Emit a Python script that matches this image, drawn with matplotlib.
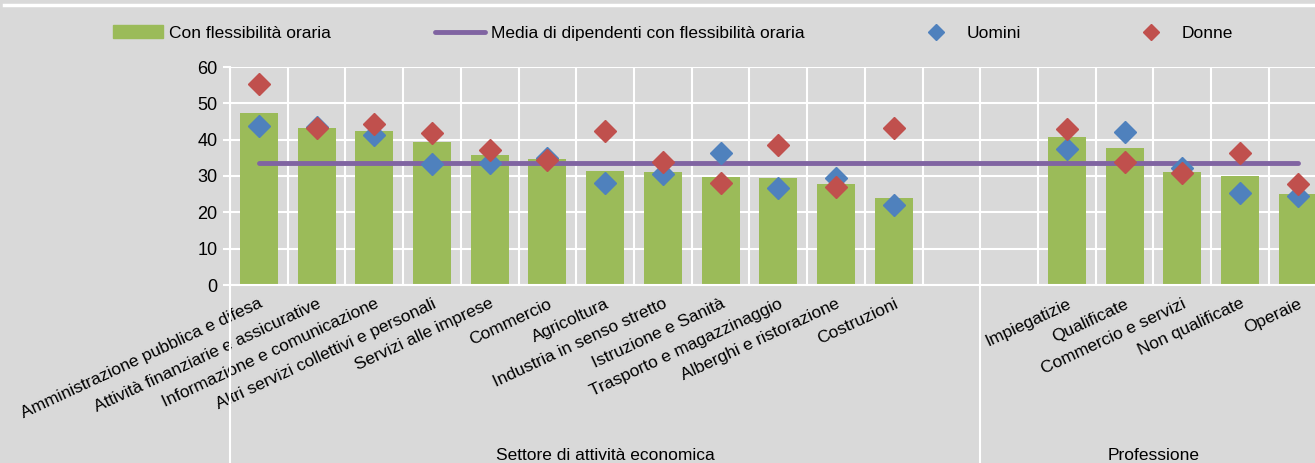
import numpy as np
import matplotlib
matplotlib.use("Agg")
import matplotlib.pyplot as plt
from matplotlib.lines import Line2D
from matplotlib.patches import Patch
from matplotlib.transforms import blended_transform_factory

plt.rcParams['font.family'] = ['Liberation Sans', 'DejaVu Sans']

# data
settori = ["Amministrazione pubblica e difesa", "Attività finanziarie e assicurative",
           "Informazione e comunicazione", "Altri servizi collettivi e personali",
           "Servizi alle imprese", "Commercio", "Agricoltura", "Industria in senso stretto",
           "Istruzione e Sanità", "Trasporto e magazzinaggio", "Alberghi e ristorazione",
           "Costruzioni"]
professioni = ["Impiegatizie", "Qualificate", "Commercio e servizi", "Non qualificate", "Operaie"]

totale_settori = [47.3, 43.1, 42.4, 39.3, 35.7, 34.6, 31.4, 31.2, 29.8, 29.4, 27.9, 23.9]
totale_prof = [40.8, 37.8, 31.0, 30.0, 25.0]
uomini_settori = [43.8, 43.5, 41.3, 33.4, 33.5, 35.0, 28.0, 30.5, 36.2, 26.8, 29.5, 21.9]
uomini_prof = [37.3, 42.2, 32.1, 25.2, 24.6]
donne_settori = [55.3, 43.1, 44.3, 41.7, 37.2, 34.4, 42.5, 33.8, 28.1, 38.6, 26.9, 43.1]
donne_prof = [42.9, 33.9, 30.7, 36.4, 27.8]
media = 33.5

green = '#9BBB59'
purple = '#8064A2'
blue = '#4F81BD'
red = '#C0504D'
bg = '#D9D9D9'
fs = 12.5

gap = 2
pos_s = np.arange(len(settori))
pos_p = len(settori) + gap + np.arange(len(professioni))
pos = np.concatenate([pos_s, pos_p])
labels = settori + professioni
totale = totale_settori + totale_prof
uomini = uomini_settori + uomini_prof
donne = donne_settori + donne_prof

fig = plt.figure(figsize=(13.15, 4.63), dpi=100, facecolor=bg)
ax = fig.add_axes([230 / 1315, 178 / 463, 1085 / 1315, 218 / 463])
ax.set_facecolor(bg)

ax.bar(pos, totale, width=0.66, color=green, zorder=2)
ax.plot([pos[0], pos[-1]], [media, media], color=purple, lw=3.5,
        solid_capstyle='round', zorder=3)
ax.plot(pos, uomini, 'D', color=blue, ms=11, zorder=4)
ax.plot(pos, donne, 'D', color=red, ms=11, zorder=5)

ax.set_yticks(range(0, 61, 10))
ax.set_xticks(pos)
ax.set_xticklabels(labels, rotation=25, ha='right', rotation_mode='anchor', fontsize=fs)
ax.set_xticks(np.arange(-0.5, 18.6, 1), minor=True)
ax.tick_params(axis='x', which='both', length=0, pad=8)
ax.tick_params(axis='y', labelsize=fs + 0.5, length=5, width=1.5, color='white', pad=4)
ax.grid(axis='y', color='white', lw=1.5, zorder=0)
ax.grid(axis='x', which='minor', color='white', lw=1.5, zorder=0)
for s in ['top', 'right']:
    ax.spines[s].set_visible(False)
for s in ['left', 'bottom']:
    ax.spines[s].set_color('white')
    ax.spines[s].set_linewidth(1.5)

# group separators and labels below the axis
trans = blended_transform_factory(ax.transData, ax.transAxes)
sep = len(settori) + gap / 2 - 0.5
for x in [-0.5, sep]:
    ax.plot([x, x], [0, -1], color='white', lw=1.5, transform=trans, clip_on=False)
tfig = blended_transform_factory(ax.transData, fig.transFigure)
ax.text((-0.5 + sep) / 2, 3 / 463, "Settore di attività economica", transform=tfig,
        ha='center', va='baseline', fontsize=fs)
ax.text((sep + pos_p[-1] + 0.5) / 2, 3 / 463, "Professione", transform=tfig,
        ha='center', va='baseline', fontsize=fs)

ax.set_ylim(0, 60)
ax.set_xlim(-0.5, 18.3)

# top border line
fig.add_artist(Line2D([4 / 1315, 1], [458 / 463, 458 / 463], color='white', lw=2.5))

# legend, one entry at a time to keep the spacing
entries = [
    (Patch(color=green), "Con flessibilità oraria", 113),
    (Line2D([], [], color=purple, lw=3.5, solid_capstyle='round'),
     "Media di dipendenti con flessibilità oraria", 435),
    (Line2D([], [], color=blue, marker='D', ls='', ms=8), "Uomini", 911),
    (Line2D([], [], color=red, marker='D', ls='', ms=8), "Donne", 1126),
]
for h, lab, x in entries:
    fig.legend(handles=[h], labels=[lab], loc='center left',
               bbox_to_anchor=(x / 1315, 1 - 33 / 463), frameon=False,
               fontsize=fs, handlelength=2.9, handletextpad=0.3,
               borderpad=0, borderaxespad=0)

fig.savefig("out.png", dpi=100, facecolor=bg)
